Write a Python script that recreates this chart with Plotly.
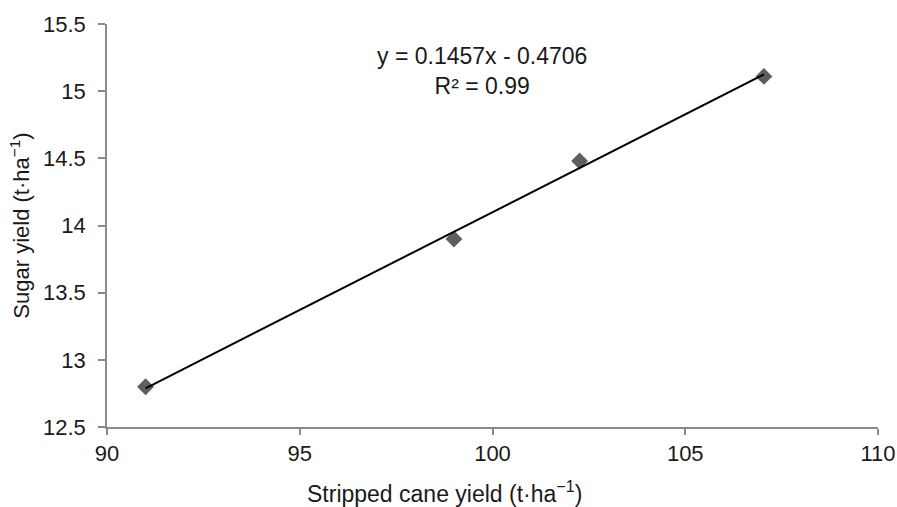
import plotly.graph_objects as go

cane_yield = [91.0, 99.0, 102.26, 107.04]
sugar_yield = [12.80, 13.90, 14.48, 15.11]
slope = 0.1457
intercept = -0.4706
r_squared = 0.99

trend_x = [min(cane_yield), max(cane_yield)]
trend_y = [slope * x + intercept for x in trend_x]

font_family = "Liberation Sans, Arial, sans-serif"
axis_grey = "#8a8a8a"
text_color = "#1a1a1a"
fsize = 22

fig = go.Figure()
fig.add_trace(go.Scatter(
    x=cane_yield, y=sugar_yield, mode="markers",
    marker=dict(symbol="diamond", size=13, color="#5e5e5e"),
    showlegend=False, hoverinfo="x+y"))
fig.add_trace(go.Scatter(
    x=trend_x, y=trend_y, mode="lines",
    line=dict(color="black", width=2),
    showlegend=False, hoverinfo="skip"))

fig.add_annotation(
    x=0.486, y=0.883, xref="paper", yref="paper",
    xanchor="center", yanchor="middle",
    text=f"y = {slope}x - {abs(intercept)}<br>R² = {r_squared}",
    showarrow=False, align="center",
    font=dict(family=font_family, size=23, color=text_color))

# x-axis title (offset left of the plot centre, as in the reference)
fig.add_annotation(
    x=0.438, y=-0.161, xref="paper", yref="paper",
    xanchor="center", yanchor="middle",
    text="Stripped cane yield (t·ha<sup>−1</sup>)",
    showarrow=False,
    font=dict(family=font_family, size=23, color=text_color))

fig.update_layout(
    width=897, height=507,
    margin=dict(l=107, r=19, t=24, b=80),
    plot_bgcolor="white", paper_bgcolor="white",
    font=dict(family=font_family, size=fsize, color=text_color),
    xaxis=dict(
        range=[90, 110], dtick=5, tick0=90,
        showgrid=False, zeroline=False, automargin=False,
        showline=True, linecolor=axis_grey, linewidth=1.5,
        ticks="outside", ticklen=6, tickcolor=axis_grey, tickwidth=1.5,
        ticklabelstandoff=0, ticklabeloverflow="allow",
        tickfont=dict(size=fsize)),
    yaxis=dict(
        range=[12.5, 15.5], dtick=0.5, tick0=12.5,
        showgrid=False, zeroline=False, automargin=False,
        showline=True, linecolor=axis_grey, linewidth=1.5,
        ticks="outside", ticklen=7, tickcolor=axis_grey, tickwidth=1.5,
        ticklabelstandoff=8,
        title=dict(text="Sugar yield (t·ha<sup>−1</sup>)", standoff=7,
                   font=dict(size=fsize)),
        tickfont=dict(size=fsize)),
)

# remove the page's default body margin and scrollbars so the figure fills the window
fig.write_html(
    "out.html",
    config={"displayModeBar": False},
    post_script="document.body.style.margin='0';document.body.style.overflow='hidden';"
                "document.documentElement.style.overflow='hidden';")
